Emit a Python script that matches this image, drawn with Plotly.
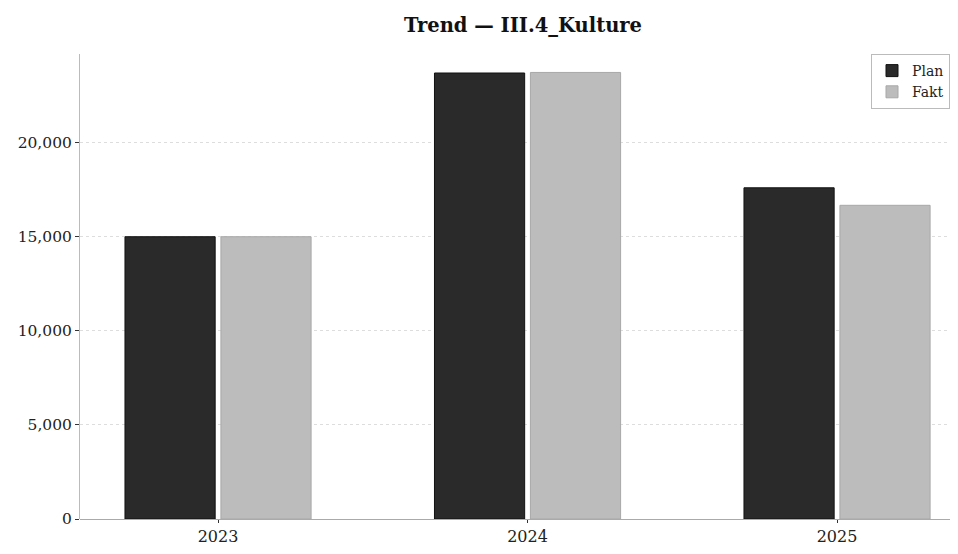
import plotly.graph_objects as go

years = ["2023", "2024", "2025"]
plan = [15000, 23700, 17600]
fakt = [15000, 23730, 16670]

fig = go.Figure()
fig.add_trace(go.Bar(x=years, y=plan, name="Plan",
                     marker=dict(color="#2a2a2a", line=dict(color="#111111", width=1))))
fig.add_trace(go.Bar(x=years, y=fakt, name="Fakt",
                     marker=dict(color="#bcbcbc", line=dict(color="#a8a8a8", width=1))))

# page has an 8px body margin, so the figure is kept inside the window
fig.update_layout(
    width=942, height=538,
    margin=dict(l=72, r=0, t=46, b=20),
    paper_bgcolor="white", plot_bgcolor="white",
    font=dict(family="DejaVu Serif", size=14, color="#222222"),
    title=dict(text="<b>Trend — III.4_Kulture</b>", x=0.5467, xanchor="center",
               y=0.968, yanchor="middle", font=dict(size=19.5, color="#111111")),
    barmode="group", bargap=0.38, bargroupgap=0.06,
    legend=dict(x=1.0, y=1.0, xanchor="right", yanchor="top",
                bordercolor="#bbbbbb", borderwidth=1, bgcolor="white",
                font=dict(size=14), tracegroupgap=2),
    showlegend=True,
)
fig.update_xaxes(type="category", range=[-0.446, 2.365], showgrid=False,
                 ticks="outside", ticklen=3, tickcolor="#333333",
                 showline=False, tickfont=dict(size=16))
fig.update_yaxes(range=[0, 24710], tickvals=[0, 5000, 10000, 15000, 20000],
                 tickformat=",", showgrid=True, gridcolor="#dddddd",
                 griddash="dot", gridwidth=1, zeroline=True,
                 zerolinecolor="#aaaaaa", zerolinewidth=1,
                 showline=True, linecolor="#bbbbbb", linewidth=1,
                 ticks="outside", ticklen=4, tickcolor="#333333",
                 tickfont=dict(size=15.5))

fig.write_html("out.html")
